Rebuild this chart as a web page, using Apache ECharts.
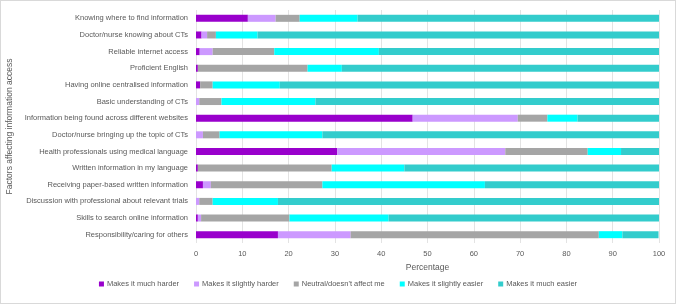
<!DOCTYPE html>
<html>
<head>
<meta charset="utf-8">
<script src="https://cdn.jsdelivr.net/npm/echarts@6/dist/echarts.min.js"></script>
<style>
  html, body { margin: 0; padding: 0; background: #fff; }
  #chart { width: 674px; height: 302px; border: 1px solid #d9d9d9; }
</style>
</head>
<body>
<div id="chart"></div>
<script>
const categories = [
  'Knowing where to find information',
  'Doctor/nurse knowing about CTs',
  'Reliable internet access',
  'Proficient English',
  'Having online centralised information',
  'Basic understanding of CTs',
  'Information being found across different websites',
  'Doctor/nurse bringing up the topic of CTs',
  'Health professionals using medical language',
  'Written information in my language',
  'Receiving paper-based written information',
  'Discussion with professional about relevant trials',
  'Skills to search online information',
  'Responsibility/caring for others',
]
const muchHarder = [11.2, 1.2, 0.8, 0.4, 0.9, 0, 46.8, 0, 30.5, 0.4, 1.5, 0, 0.4, 17.7]
const slightlyHarder = [6.0, 1.2, 2.8, 0, 0, 0.7, 22.7, 1.5, 36.3, 0, 1.7, 0.7, 0.7, 15.7]
const neutral = [5.2, 1.9, 13.3, 23.7, 2.7, 4.8, 6.4, 3.6, 17.8, 28.9, 24.1, 2.9, 19.1, 53.6]
const slightlyEasier = [12.5, 9.0, 22.6, 7.4, 14.5, 20.3, 6.5, 22.2, 7.2, 15.7, 35.1, 14.1, 21.4, 5.1]
const muchEasier = [65.1, 86.7, 60.5, 68.5, 81.9, 74.2, 17.6, 72.7, 8.2, 55.0, 37.6, 82.3, 58.4, 7.8]

const seriesDefs = [
  { name: 'Makes it much harder', color: '#9900cc', data: muchHarder },
  { name: 'Makes it slightly harder', color: '#cc99ff', data: slightlyHarder },
  { name: "Neutral/doesn't affect me", color: '#a5a5a5', data: neutral },
  { name: 'Makes it slightly easier', color: '#00ffff', data: slightlyEasier },
  { name: 'Makes it much easier', color: '#33cccc', data: muchEasier },
]

const font = '"Liberation Sans", Arial, sans-serif'
const chart = echarts.init(document.getElementById('chart'))
chart.setOption({
  animation: false,
  textStyle: { fontFamily: font },
  grid: { left: 195, right: 16, top: 9, bottom: 60, outerBoundsMode: 'none', containLabel: false },
  legend: {
    bottom: 10,
    left: 'center',
    itemWidth: 5,
    itemHeight: 5,
    itemGap: 15,
    icon: 'rect',
    textStyle: { fontSize: 7.5, color: '#595959', fontFamily: font, padding: [0, 0, 0, -2] },
    data: seriesDefs.map(s => s.name),
  },
  xAxis: {
    type: 'value',
    min: 0,
    max: 100,
    interval: 10,
    name: 'Percentage',
    nameLocation: 'middle',
    nameGap: 19,
    nameTextStyle: { fontSize: 8.5, color: '#595959' },
    axisLine: { show: false },
    axisTick: { show: false },
    axisLabel: { fontSize: 7.5, color: '#595959', margin: 7 },
    splitLine: { lineStyle: { color: '#e3e3e3' } },
  },
  yAxis: {
    type: 'category',
    data: categories,
    inverse: true,
    name: 'Factors affecting information access',
    nameLocation: 'middle',
    nameGap: 178,
    nameTextStyle: { fontSize: 8.5, color: '#595959' },
    axisLine: { show: false },
    axisTick: { show: false },
    axisLabel: { fontSize: 7.5, color: '#595959', margin: 8 },
  },
  series: seriesDefs.map(s => ({
    name: s.name,
    type: 'bar',
    stack: 'total',
    barWidth: 7,
    itemStyle: { color: s.color },
    data: s.data,
  })),
})
</script>
</body>
</html>
